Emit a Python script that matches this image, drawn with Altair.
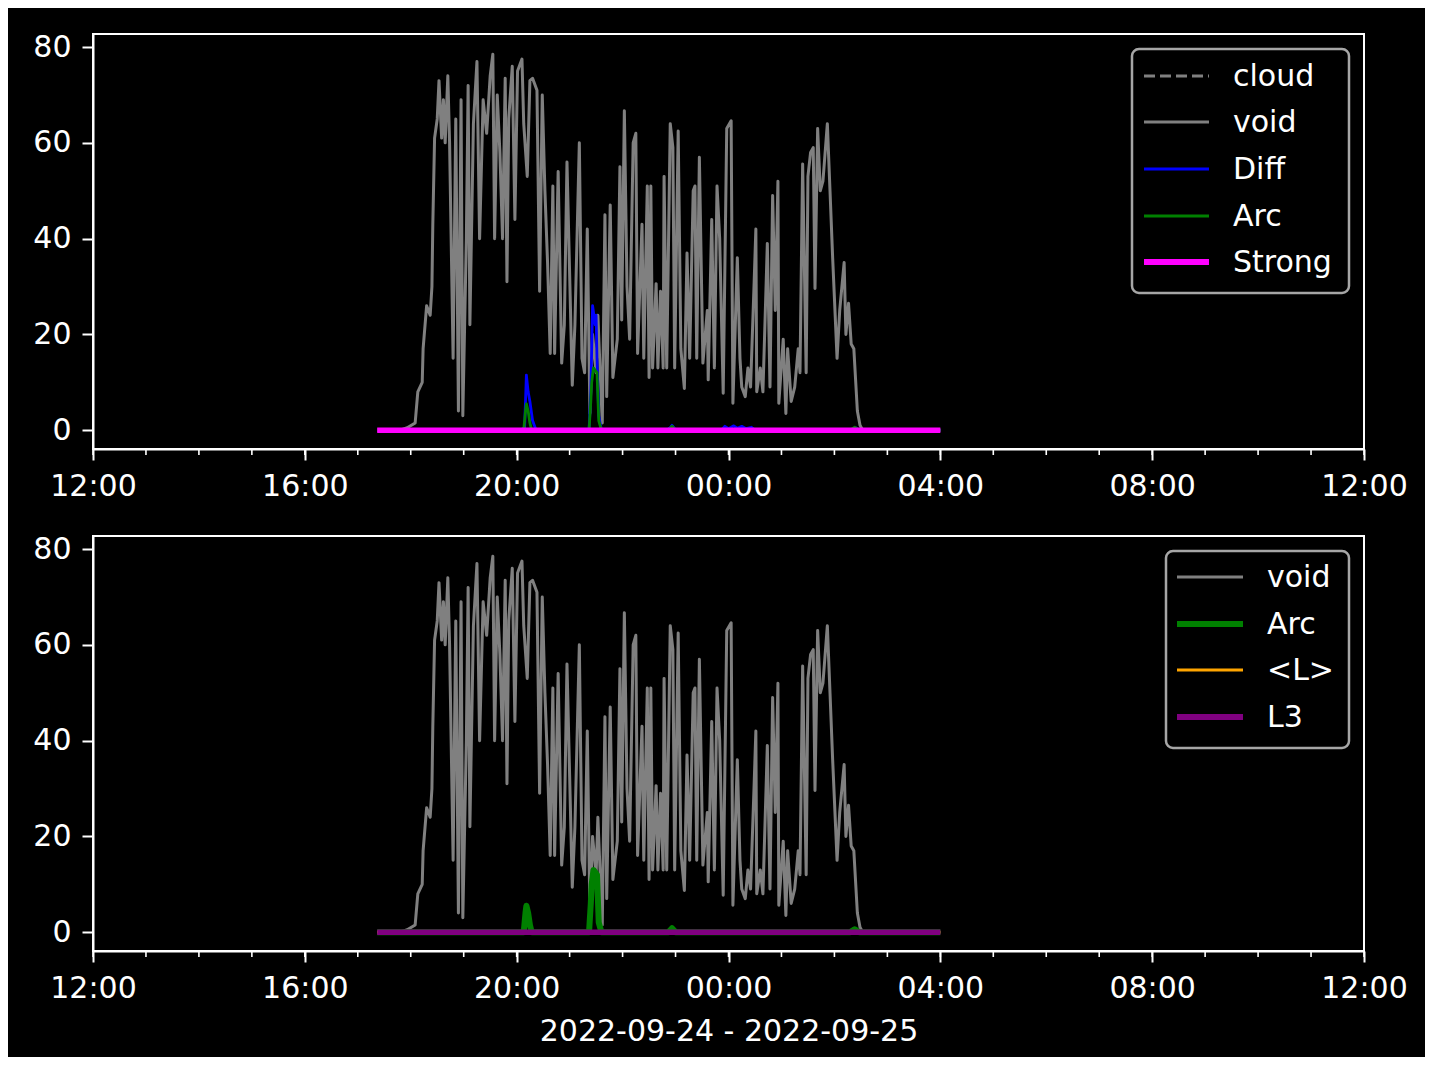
import altair as alt
import pandas as pd

# ---------------- data (minutes after 2022-09-24 12:00) ----------------
void_minutes = [322, 348, 356, 365, 368, 373, 374, 378, 382, 384,
                385, 387, 390, 392, 395, 397, 399, 402, 404, 408,
                411, 414, 417, 419, 423, 425, 427, 431, 435, 438,
                442, 446, 450, 453, 455, 458, 461, 464, 467, 469,
                471, 475, 478, 481, 486, 488, 492, 495, 498, 503,
                506, 509, 512, 515, 518, 521, 523, 527, 531, 534,
                537, 543, 546, 551, 554, 557, 560, 563, 566, 570,
                572, 577, 580, 582, 586, 589, 594, 597, 599, 602,
                605, 608, 612, 615, 617, 622, 624, 628, 630, 632,
                634, 638, 640, 643, 646, 647, 650, 654, 657, 659,
                663, 666, 670, 673, 676, 680, 682, 684, 687, 691,
                696, 697, 701, 704, 707, 710, 714, 718, 723, 725,
                730, 733, 735, 739, 742, 745, 749, 751, 752, 756,
                759, 764, 767, 770, 773, 776, 777, 782, 785, 787,
                791, 795, 799, 801, 804, 808, 810, 813, 816, 818,
                821, 824, 827, 832, 835, 838, 843, 846, 851, 853,
                856, 859, 862, 866, 869, 872, 960]
void_values = [0, 0, 0.5, 1.5, 8, 10, 17, 26, 24, 30,
               43, 61, 65, 73, 61, 69, 60, 74, 60, 15,
               65, 4, 69, 3, 40, 72, 22, 64, 77, 40,
               69, 62, 74, 78.5, 40, 70, 58, 40, 73.5, 31,
               65, 76, 44, 75, 77.5, 64, 53, 73, 73.5, 71,
               29, 70, 50, 35, 16, 51, 16, 54, 14, 22,
               56, 9.4, 22, 60, 15, 12, 42, 3.5, 20, 12,
               24, 1.5, 45, 7, 47, 11, 19, 55, 23, 66.7,
               30, 19, 60, 62, 16, 43, 15, 51, 11, 51,
               13, 30.6, 13, 29, 13, 53, 13, 64, 59, 13,
               62.5, 17, 8.7, 37, 15, 50, 51, 15, 57, 14,
               25, 10.5, 44, 13, 51, 40, 7.7, 63, 64.6, 5.6,
               36, 15, 9, 7, 13, 9, 30.6, 42, 8, 13,
               8, 39, 9, 49, 25, 52, 5.6, 19, 3.5, 17,
               6, 9, 17, 12, 55.6, 12, 53, 58, 59, 29.6,
               63, 50, 52, 64, 50, 36, 15, 25, 35, 20,
               26.5, 18, 17, 4, 1, 0, 0]

diff_minutes = [322, 484, 489, 491, 493, 495, 498, 502, 562, 564, 566, 569, 570,
                571, 573, 576, 650, 654, 656, 660, 712, 716, 720, 726, 730, 735,
                740, 746, 750, 860, 864, 868, 960]
diff_values = [0, 0, 0.5, 11.5, 8, 6, 2, 0, 0, 8, 26, 22, 24,
               15, 3, 0, 0, 0.5, 1, 0, 0, 0.8, 0.3, 0.9, 0.4, 0.8,
               0.3, 0.6, 0, 0, 0.5, 0, 0]

arc_minutes = [322, 488, 490, 491, 493, 495, 497, 562, 564, 565, 567, 569, 571,
               573, 576, 652, 656, 660, 858, 863, 868, 960]
arc_values = [0, 0, 4, 5.5, 4, 1.5, 0, 0, 6, 10, 13, 12.5, 12,
              2, 0, 0, 0.8, 0, 0, 0.6, 0, 0]

cloud_minutes = [322, 960]
cloud_values = [0, 0]
strong_minutes = [322, 960]
strong_values = [0, 0]
meanl_minutes = [322, 960]
meanl_values = [0, 0]
l3_minutes = [322, 960]
l3_values = [0, 0]

major_tick_hours = [(24, 12), (24, 16), (24, 20), (25, 0), (25, 4), (25, 8), (25, 12)]
minor_tick_minutes = list(range(0, 24 * 60 + 1, 60))

top_legend_labels = ["cloud", "void", "Diff", "Arc", "Strong"]
bottom_legend_labels = ["void", "Arc", "<L>", "L3"]
x_title = "2022-09-24 - 2022-09-25"

# ---------------- helpers ----------------
BASE = pd.Timestamp("2022-09-24 12:00:00")
W, H = 1271, 415
FONT = "DejaVu Sans"


def frame(minutes, values):
    return pd.DataFrame({
        "time": [(BASE + pd.Timedelta(minutes=m)).strftime("%Y-%m-%dT%H:%M:%S") for m in minutes],
        "value": values,
    })


x_scale = alt.Scale(domain=[alt.DateTime(year=2022, month=9, date=24, hours=12),
                            alt.DateTime(year=2022, month=9, date=25, hours=12)], nice=False)
y_scale = alt.Scale(domain=[-3.94, 82.74], nice=False, zero=False)


def x_axis(title):
    kw = dict(
        values=[alt.DateTime(year=2022, month=9, date=d, hours=h) for d, h in major_tick_hours],
        format="%H:%M", tickSize=11, tickWidth=2, tickColor="white",
        labelFontSize=30, labelColor="white", labelPadding=11, labelFont=FONT,
        labelFlush=False, labelOverlap=False, grid=False,
        domainColor="white", domainWidth=2,
    )
    if title:
        kw.update(title=title, titleFontSize=30, titleColor="white", titleFont=FONT,
                  titleFontWeight="normal", titlePadding=13)
    else:
        kw.update(title=None)
    return alt.Axis(**kw)


y_axis = alt.Axis(values=[0, 20, 40, 60, 80], tickSize=11, tickWidth=2, tickColor="white",
                  labelFontSize=30, labelColor="white", labelPadding=11, labelFont=FONT,
                  grid=False, domainColor="white", domainWidth=2, title=None)


def series(minutes, values, color, width, xax, dash=None):
    mk = dict(color=color, strokeWidth=width, strokeJoin="round")
    if dash:
        mk["strokeDash"] = dash
    return alt.Chart(frame(minutes, values)).mark_line(**mk).encode(
        x=alt.X("time:T", scale=x_scale, axis=xax),
        y=alt.Y("value:Q", scale=y_scale, axis=y_axis),
    )


def minor_ticks(xax):
    df = pd.DataFrame({"time": [(BASE + pd.Timedelta(minutes=m)).strftime("%Y-%m-%dT%H:%M:%S")
                                for m in minor_tick_minutes]})
    return alt.Chart(df).mark_rule(color="white", strokeWidth=1.6).encode(
        x=alt.X("time:T", scale=x_scale, axis=xax),
        y=alt.value(H), y2=alt.value(H + 6),
    )


one = pd.DataFrame({"k": [0]})


def legend(box, line_x, text_x, rows, entries):
    layers = [alt.Chart(one).mark_rect(fill="black", fillOpacity=0.8, stroke="#a6a6a6",
                                       strokeWidth=2.5, cornerRadius=7).encode(
        x=alt.value(box[0]), x2=alt.value(box[1]), y=alt.value(box[2]), y2=alt.value(box[3]))]
    for (label, color, width, dash), yy in zip(entries, rows):
        mk = dict(color=color, strokeWidth=width)
        if dash:
            mk["strokeDash"] = dash
        layers.append(alt.Chart(one).mark_rule(**mk).encode(
            x=alt.value(line_x[0]), x2=alt.value(line_x[1]), y=alt.value(yy)))
        layers.append(alt.Chart(one).mark_text(align="left", baseline="middle", fontSize=30,
                                               font=FONT, color="white").encode(
            x=alt.value(text_x), y=alt.value(yy + 1), text=alt.value(label)))
    return layers


top_entries = [
    (top_legend_labels[0], "#808080", 3, [11, 5]),
    (top_legend_labels[1], "#808080", 3, None),
    (top_legend_labels[2], "#0000ff", 3, None),
    (top_legend_labels[3], "#008000", 3, None),
    (top_legend_labels[4], "#ff00ff", 6, None),
]
bottom_entries = [
    (bottom_legend_labels[0], "#808080", 3, None),
    (bottom_legend_labels[1], "#008000", 6, None),
    (bottom_legend_labels[2], "#ffa500", 3, None),
    (bottom_legend_labels[3], "#800080", 6, None),
]

ax_top = x_axis(None)
ax_bot = x_axis(x_title)

top = alt.layer(
    series(void_minutes, void_values, "#808080", 3, ax_top),
    series(cloud_minutes, cloud_values, "#808080", 3, ax_top, dash=[11, 5]),
    series(diff_minutes, diff_values, "#0000ff", 2.8, ax_top),
    series(arc_minutes, arc_values, "#008000", 2.8, ax_top),
    series(strong_minutes, strong_values, "#ff00ff", 5.5, ax_top),
    minor_ticks(ax_top),
    *legend((1039, 1256, 15, 259), (1051, 1116), 1140, [42, 88, 135, 182, 228], top_entries),
).properties(width=W, height=H)

bottom = alt.layer(
    series(void_minutes, void_values, "#808080", 3, ax_bot),
    series(arc_minutes, arc_values, "#008000", 6, ax_bot),
    series(meanl_minutes, meanl_values, "#ffa500", 2.8, ax_bot),
    series(l3_minutes, l3_values, "#800080", 5.5, ax_bot),
    minor_ticks(ax_bot),
    *legend((1073, 1256, 15, 212), (1084, 1150), 1174, [41, 88, 134, 181], bottom_entries),
).properties(width=W, height=H)

chart = alt.vconcat(top, bottom, spacing=31).properties(
    background="black",
    padding={"left": 23, "top": 23, "right": 16, "bottom": 10},
).configure_view(stroke="white", strokeWidth=2)

chart.save("out.html", embed_options={"renderer": "svg", "actions": False})
